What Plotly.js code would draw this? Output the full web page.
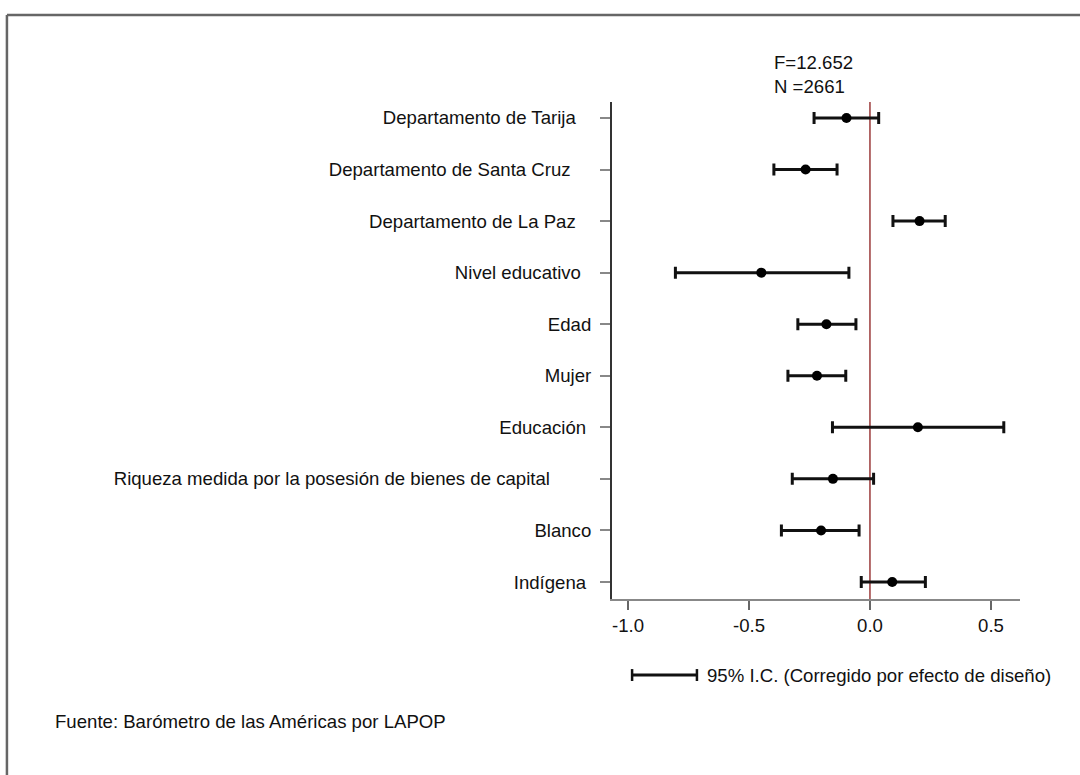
<!DOCTYPE html>
<html>
<head>
<meta charset="utf-8">
<script src="https://cdn.plot.ly/plotly-3.0.1.min.js"></script>
<style>html,body{margin:0;padding:0;background:#fff;}#chart{width:1080px;height:775px;}</style>
</head>
<body>
<div id="chart"></div>
<script>
// Categories, top to bottom (trailing non-breaking spaces reproduce the original label offsets)
var categories = [
  "Departamento de Tarija\u00a0\u00a0\u00a0",
  "Departamento de Santa Cruz\u00a0\u00a0\u00a0\u00a0",
  "Departamento de La Paz\u00a0\u00a0\u00a0",
  "Nivel educativo\u00a0\u00a0",
  "Edad",
  "Mujer",
  "Educación\u00a0",
  "Riqueza medida por la posesión de bienes de capital\u00a0\u00a0\u00a0\u00a0\u00a0\u00a0\u00a0\u00a0",
  "Blanco",
  "Indígena\u00a0"
];
var coef  = [-0.097, -0.266, 0.205, -0.449, -0.180, -0.219, 0.198, -0.153, -0.202, 0.092];
var lower = [-0.231, -0.397, 0.095, -0.804, -0.298, -0.339, -0.155, -0.321, -0.366, -0.036];
var upper = [ 0.036, -0.136, 0.311, -0.087, -0.058, -0.100, 0.553, 0.015, -0.045, 0.229];

var xTickVals = [-1.0, -0.5, 0.0, 0.5];
var xTickText = ["-1.0", "-0.5", "0.0", "0.5"];

var statsText = "F=12.652<br>N =2661";
var legendText = "95% I.C. (Corregido por efecto de diseño)";
var sourceText = "Fuente: Barómetro de las Américas por LAPOP";

var errPlus = upper.map(function(u, i){ return u - coef[i]; });
var errMinus = lower.map(function(l, i){ return coef[i] - l; });

var FONT = "Arial, 'Liberation Sans', sans-serif";
var FS = 18.6;

var trace = {
  type: "scatter",
  mode: "markers",
  x: coef,
  y: categories,
  marker: {color: "#000", size: 10},
  error_x: {
    type: "data",
    symmetric: false,
    array: errPlus,
    arrayminus: errMinus,
    color: "#111",
    thickness: 3,
    width: 6
  },
  cliponaxis: false,
  hoverinfo: "x+y",
  showlegend: false
};

var layout = {
  width: 1080,
  height: 775,
  margin: {l: 612, r: 60, t: 102, b: 176},
  paper_bgcolor: "#fff",
  plot_bgcolor: "#fff",
  font: {family: FONT, size: FS, color: "#111"},
  showlegend: false,
  xaxis: {
    range: [-1.066, 0.62],
    tickvals: xTickVals,
    ticktext: xTickText,
    showgrid: false,
    zeroline: false,
    showline: true,
    linecolor: "#888",
    linewidth: 2,
    ticks: "outside",
    ticklen: 9,
    tickwidth: 2,
    tickcolor: "#666",
    tickfont: {family: FONT, size: FS, color: "#111"},
    fixedrange: true
  },
  yaxis: {
    type: "category",
    categoryorder: "array",
    categoryarray: categories,
    range: [9.33, -0.31],
    showgrid: false,
    zeroline: false,
    showline: true,
    linecolor: "#333",
    linewidth: 2,
    ticks: "outside",
    ticklen: 10,
    tickwidth: 2,
    tickcolor: "#888",
    tickfont: {family: FONT, size: FS, color: "#111"},
    ticklabelstandoff: 5,
    fixedrange: true
  },
  shapes: [
    // reference line at zero
    {type: "line", xref: "x", yref: "paper", x0: 0, x1: 0, y0: 0, y1: 1,
     line: {color: "#9b3a3a", width: 1.5}, layer: "below"},
    // legend glyph
    {type: "line", xref: "x", yref: "paper", x0: -0.983, x1: -0.715, y0: -0.153, y1: -0.153,
     line: {color: "#111", width: 3}},
    {type: "line", xref: "x", yref: "paper", x0: -0.983, x1: -0.983, y0: -0.141, y1: -0.165,
     line: {color: "#111", width: 2.5}},
    {type: "line", xref: "x", yref: "paper", x0: -0.715, x1: -0.715, y0: -0.141, y1: -0.165,
     line: {color: "#111", width: 2.5}},
    // figure frame (left and top)
    {type: "line", xref: "paper", yref: "paper", x0: -1.483, x1: -1.483, y0: 1.175, y1: -0.36,
     line: {color: "#666", width: 2.5}},
    {type: "line", xref: "paper", yref: "paper", x0: -1.483, x1: 1.16, y0: 1.175, y1: 1.175,
     line: {color: "#666", width: 2.5}}
  ],
  annotations: [
    {xref: "x", yref: "paper", x: -0.405, y: 1, xanchor: "left", yanchor: "bottom",
     text: statsText, align: "left", showarrow: false, yshift: 3,
     font: {family: FONT, size: FS, color: "#111"}},
    {xref: "x", yref: "paper", x: -0.68, y: -0.153, xanchor: "left", yanchor: "middle",
     text: legendText, showarrow: false,
     font: {family: FONT, size: FS, color: "#111"}},
    {xref: "paper", yref: "paper", x: -1.37, y: -0.2455, xanchor: "left", yanchor: "middle",
     text: sourceText, showarrow: false,
     font: {family: FONT, size: FS, color: "#111"}}
  ]
};

Plotly.newPlot("chart", [trace], layout, {displayModeBar: false, staticPlot: true});
</script>
</body>
</html>
